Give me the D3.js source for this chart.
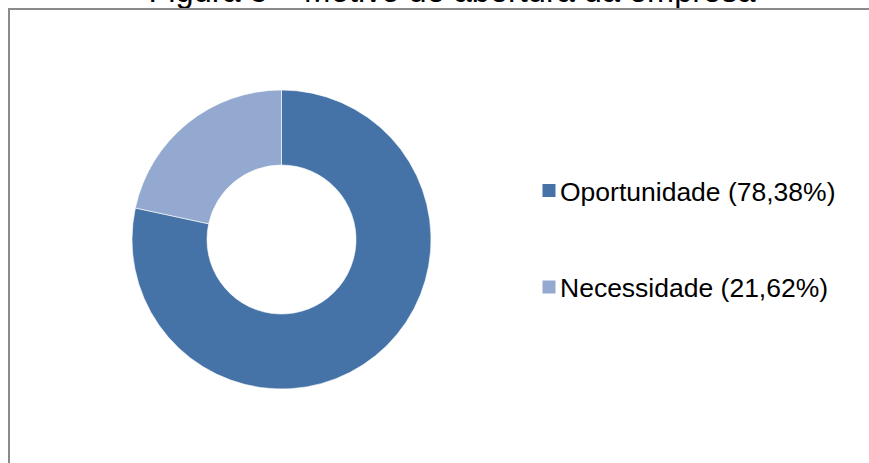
<!DOCTYPE html>
<html>
<head>
<meta charset="utf-8">
<script src="https://cdn.jsdelivr.net/npm/d3@7/dist/d3.min.js"></script>
<style>
  html, body { margin: 0; padding: 0; background: #fff; }
  svg { display: block; }
  text { font-family: "Liberation Sans", Arial, sans-serif; fill: #000; }
</style>
</head>
<body>
<svg id="chart" width="869" height="463"></svg>
<script>
// Motivo de abertura da empresa
const categories = ["Oportunidade", "Necessidade"];
const values = [78.38, 21.62];
const colors = ["#4573A7", "#93A9CF"];
const title = "Figura 5 – Motivo de abertura da empresa";

const fmt = v => d3.format(".2f")(v).replace(".", ",");

const svg = d3.select("#chart");
const W = 869, H = 463;

// Title (sits partly above the frame)
svg.append("text")
  .attr("x", 452)
  .attr("y", 2)
  .attr("text-anchor", "middle")
  .style("font-size", "32.5px")
  .text(title);

// Chart frame
svg.append("rect")
  .attr("x", 9)
  .attr("y", 9)
  .attr("width", W + 20)
  .attr("height", H + 20)
  .attr("fill", "none")
  .attr("stroke", "#8a8a8a")
  .attr("stroke-width", 2);

// Donut
const cx = 281.5, cy = 239.5, rOuter = 149.5, rInner = 74.5;
const pie = d3.pie().sort(null).value(d => d.value);
const arc = d3.arc().innerRadius(rInner).outerRadius(rOuter);
const data = categories.map((c, i) => ({ name: c, value: values[i], color: colors[i] }));

svg.append("g")
  .attr("transform", `translate(${cx},${cy})`)
  .selectAll("path")
  .data(pie(data))
  .join("path")
  .attr("d", arc)
  .attr("fill", d => d.data.color)
  .attr("stroke", "#fff")
  .attr("stroke-width", 0.6);

// Legend
const legend = svg.append("g");
const rowY = d3.scalePoint().domain(categories).range([200.5, 297]);
const item = legend.selectAll("g")
  .data(data)
  .join("g")
  .attr("transform", d => `translate(0,${rowY(d.name)})`);

item.append("rect")
  .attr("x", 542.5)
  .attr("y", -16.5)
  .attr("width", 13)
  .attr("height", 13)
  .attr("fill", d => d.color);

item.append("text")
  .attr("x", 560)
  .attr("y", 0)
  .style("font-size", "26.5px")
  .text(d => `${d.name} (${fmt(d.value)}%)`);
</script>
</body>
</html>
